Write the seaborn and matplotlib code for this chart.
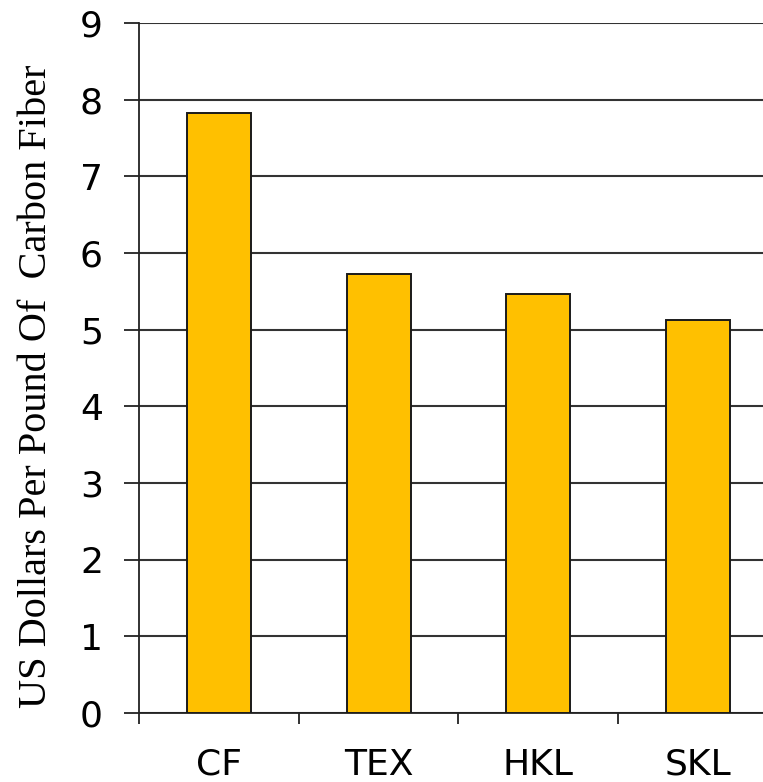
import matplotlib
matplotlib.use("Agg")
import matplotlib.pyplot as plt
import seaborn as sns
import pandas as pd

# Cost per pound of carbon fiber by precursor route
categories = ["CF", "TEX", "HKL", "SKL"]
cost_usd_per_lb = [7.82, 5.73, 5.46, 5.13]
y_ticks = list(range(0, 10))

df = pd.DataFrame({"route": categories, "cost": cost_usd_per_lb})

sns.set_theme(style="white")
plt.rcParams["font.family"] = ["DejaVu Sans"]
plt.rcParams["text.color"] = "black"
plt.rcParams["xtick.color"] = "black"
plt.rcParams["ytick.color"] = "black"

fig = plt.figure(figsize=(7.63, 7.82), dpi=100)
W, H = 763, 782
left, right, top, bottom = 139, 778, 23, 713
ax = fig.add_axes([left / W, 1 - bottom / H, (right - left) / W, (bottom - top) / H])

sns.barplot(data=df, x="route", y="cost", ax=ax, color="#FFC000",
            width=0.4, edgecolor="#1a1a1a", linewidth=1.4, saturation=1,
            zorder=3)

ax.set_ylim(0, 9)
ax.set_xlim(-0.5, len(categories) - 0.5)
ax.set_yticks(y_ticks)
ax.yaxis.grid(True, color="#333333", linewidth=1.5, zorder=0)
ax.xaxis.grid(False)

for side in ["top", "right"]:
    ax.spines[side].set_visible(False)
for side in ["left", "bottom"]:
    ax.spines[side].set_color("#222222")
    ax.spines[side].set_linewidth(1.3)

ax.tick_params(axis="y", which="major", length=11, width=1.3, color="#222222",
               pad=15, labelsize=26, left=True, labelcolor="black")
ax.tick_params(axis="x", which="major", length=0, pad=25, labelsize=26,
               labelcolor="black")
ax.set_xticks([i - 0.5 for i in range(len(categories))], minor=True)
ax.tick_params(axis="x", which="minor", length=8, width=1.3, color="#222222",
               bottom=True)

ax.set_xlabel("")
ax.set_ylabel("US Dollars Per Pound Of  Carbon Fiber", family="Liberation Serif",
              fontsize=29, color="black")
ax.yaxis.set_label_coords((55 - left) / (right - left), (bottom - 386) / (bottom - top))

fig.savefig("out.png", dpi=100)
